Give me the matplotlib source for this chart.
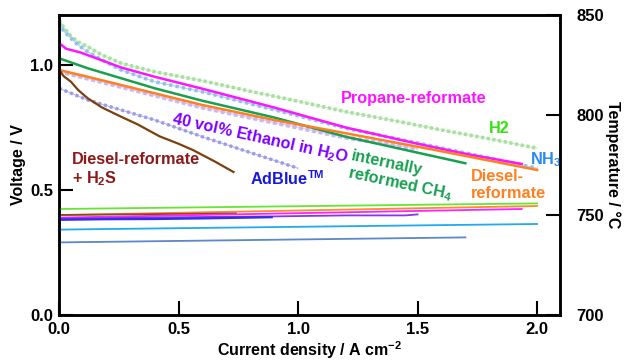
import matplotlib
matplotlib.use("Agg")
import matplotlib.pyplot as plt

plt.rcParams['font.family'] = ['Liberation Sans', 'DejaVu Sans']
plt.rcParams['font.weight'] = 'bold'
plt.rcParams['mathtext.fontset'] = 'custom'
plt.rcParams['mathtext.rm'] = 'Liberation Sans:bold'
plt.rcParams['mathtext.bf'] = 'Liberation Sans:bold'
plt.rcParams['mathtext.it'] = 'Liberation Sans:bold'
plt.rcParams['mathtext.default'] = 'bf'

# ---------------- data: voltage curves ----------------
h2_j = [0.0, 0.02, 0.05, 0.08, 0.12, 0.18, 0.26, 0.4, 0.6, 0.8, 1.0, 1.2, 1.4, 1.6, 1.8, 2.0]
h2_v = [1.18, 1.15, 1.115, 1.092, 1.073, 1.04, 1.007, 0.973, 0.937, 0.895, 0.855, 0.813, 0.778, 0.74, 0.705, 0.667]

nh3_j = [0.0, 0.02, 0.05, 0.08, 0.12, 0.18, 0.26, 0.4, 0.6, 0.8, 1.0, 1.2, 1.4, 1.6, 1.8, 2.0]
nh3_v = [1.17, 1.135, 1.107, 1.08, 1.053, 1.02, 0.98, 0.933, 0.893, 0.845, 0.797, 0.747, 0.708, 0.668, 0.628, 0.587]

prop_j = [0.0, 0.03, 0.09, 0.17, 0.26, 0.4, 0.6, 0.9, 1.2, 1.5, 1.7, 1.936]
prop_v = [1.088, 1.065, 1.05, 1.022, 0.99, 0.953, 0.905, 0.83, 0.75, 0.685, 0.645, 0.604]

ch4_j = [0.0, 0.12, 0.26, 0.4, 0.6, 0.9, 1.2, 1.45, 1.7]
ch4_v = [1.027, 0.987, 0.947, 0.907, 0.857, 0.79, 0.713, 0.66, 0.607]

dsl_j = [0.0, 0.12, 0.26, 0.4, 0.6, 0.9, 1.2, 1.6, 2.0]
dsl_v = [0.98, 0.953, 0.92, 0.887, 0.84, 0.78, 0.727, 0.655, 0.58]

eth_j = [0.0, 0.26, 0.6, 1.0, 1.2, 1.5]
eth_v = [0.975, 0.913, 0.83, 0.75, 0.71, 0.665]

adb_j = [0.0, 0.12, 0.26, 0.4, 0.6, 0.8, 1.0]
adb_v = [0.907, 0.86, 0.82, 0.78, 0.713, 0.65, 0.587]

h2s_j = [0.0, 0.02, 0.05, 0.08, 0.12, 0.18, 0.26, 0.33, 0.42, 0.5, 0.56, 0.65, 0.73]
h2s_v = [0.98, 0.955, 0.933, 0.9, 0.867, 0.83, 0.793, 0.762, 0.715, 0.685, 0.66, 0.615, 0.572]

# ---------------- data: temperature lines ----------------
t_h2_j, t_h2 = [0.0, 2.0], [753.0, 755.8]
t_dsl_j, t_dsl = [0.0, 2.0], [750.0, 754.5]
t_h2s_j, t_h2s = [0.0, 0.74], [750.0, 750.8]
t_prop_j, t_prop = [0.0, 1.936], [748.7, 753.0]
t_eth_j, t_eth = [0.0, 0.3, 0.6, 0.9, 1.2, 1.45, 1.5], [748.2, 748.6, 749.0, 749.3, 749.8, 749.8, 750.3]
t_adb_j, t_adb = [0.0, 0.2, 0.4, 0.6, 0.89], [747.6, 747.9, 748.0, 748.3, 748.9]
t_nh3_j, t_nh3 = [0.0, 2.0], [742.7, 745.5]
t_ch4_j, t_ch4 = [0.0, 1.7], [736.3, 738.8]

fig = plt.figure(figsize=(6.24, 3.62), dpi=100)
ax = fig.add_axes([59/624, 1-315/362, (560-59)/624, (315-15)/362])
ax2 = ax.twinx()

# dotted/marker-like curves
ax.plot(h2_j, h2_v, color='#c6ecc0', lw=0.8, zorder=2)
ax.plot(h2_j, h2_v, color='#a8e0a0', lw=2.6, ls=(0, (0.9, 0.7)), zorder=2)
ax.plot(nh3_j, nh3_v, color='#a9d2f0', lw=0.8, zorder=2)
ax.plot(nh3_j, nh3_v, color='#8fc2ea', lw=2.6, ls=(0, (0.9, 0.9)), zorder=2)
ax.plot(eth_j, eth_v, color='#dcccf4', lw=1.0, zorder=2)
ax.plot(eth_j, eth_v, color='#cbb6f0', lw=3.2, ls=(0, (0.9, 0.6)), zorder=2)
ax.plot(adb_j, adb_v, color='#b4b4ee', lw=0.8, zorder=2)
ax.plot(adb_j, adb_v, color='#9a9ae6', lw=2.4, ls=(0, (0.9, 0.9)), zorder=2)

# solid curves
ax.plot(prop_j, prop_v, color='#ff14ff', lw=1.8, zorder=3)
ax.plot(ch4_j, ch4_v, color='#18a050', lw=1.8, zorder=3)
ax.plot(dsl_j, dsl_v, color='#ff8020', lw=1.8, zorder=3)
ax.plot(h2s_j, h2s_v, color='#7a4010', lw=1.6, zorder=3)

# temperature lines
ax2.plot(t_h2_j, t_h2, color='#66e633', lw=1.3)
ax2.plot(t_dsl_j, t_dsl, color='#ff8a2a', lw=1.3)
ax2.plot(t_h2s_j, t_h2s, color='#8a4a1a', lw=1.3)
ax2.plot(t_prop_j, t_prop, color='#ff22ff', lw=1.3)
ax2.plot(t_eth_j, t_eth, color='#8833ee', lw=1.3)
ax2.plot(t_adb_j, t_adb, color='#3030e0', lw=1.6)
ax2.plot(t_nh3_j, t_nh3, color='#22aaee', lw=1.3)
ax2.plot(t_ch4_j, t_ch4, color='#5a88c8', lw=1.3)

ax.set_xlim(0, 2.096)
ax.set_ylim(0, 1.2)
ax2.set_ylim(700, 850)

ax.set_xticks([0.0, 0.5, 1.0, 1.5, 2.0])
ax.set_xticklabels(['0.0', '0.5', '1.0', '1.5', '2.0'])
ax.set_yticks([0.0, 0.5, 1.0])
ax.set_yticklabels(['0.0', '0.5', '1.0'])
ax2.set_yticks([700, 750, 800, 850])

for a in (ax, ax2):
    for s in a.spines.values():
        s.set_linewidth(1.8)
ax.tick_params(direction='in', length=10, width=1.5, labelsize=12, pad=5)
ax.tick_params(axis='y', pad=4)
ax2.tick_params(direction='in', length=10, width=1.5, labelsize=12, pad=12)

ax.set_xlabel('Current density / A cm$^{-2}$', fontsize=11.5, fontweight='bold', labelpad=2)
ax.set_ylabel('Voltage / V', fontsize=11.5, fontweight='bold', labelpad=3)
ax2.set_ylabel('Temperature / °C', fontsize=11.5, fontweight='bold', rotation=270, va='center', ha='center')
ax2.yaxis.set_label_coords(1.106, 0.5)

fs = 11.7
ax.text(1.485, 0.868, 'Propane-reformate', color='#ff14ff', fontsize=fs, fontweight='bold', ha='center', va='center')
ax.text(1.84, 0.748, 'H2', color='#33e011', fontsize=fs, fontweight='bold', ha='center', va='center')
ax.text(1.97, 0.62, 'NH$_{3}$', color='#2a8cf0', fontsize=fs, fontweight='bold', ha='left', va='center')
ax.text(1.724, 0.52, 'Diesel-\nreformate', color='#ff8020', fontsize=fs, fontweight='bold', ha='left', va='center', linespacing=1.1)
ax.text(1.435, 0.555, 'internally\nreformed CH$_{4}$', color='#18a050', fontsize=fs, fontweight='bold',
        ha='center', va='center', rotation=-12, rotation_mode='anchor', linespacing=1.1, multialignment='left')
ax.text(0.84, 0.705, '40 vol% Ethanol in H$_{2}$O', color='#8000ff', fontsize=fs, fontweight='bold',
        ha='center', va='center', rotation=-12.5, rotation_mode='anchor')
ax.text(0.955, 0.544, 'AdBlue$^{TM}$', color='#1818e0', fontsize=fs, fontweight='bold', ha='center', va='center')
ax.text(0.055, 0.58, 'Diesel-reformate\n+ H$_{2}$S', color='#8b1a1a', fontsize=fs, fontweight='bold',
        ha='left', va='center', linespacing=1.2)

fig.savefig('out.png', dpi=100)
